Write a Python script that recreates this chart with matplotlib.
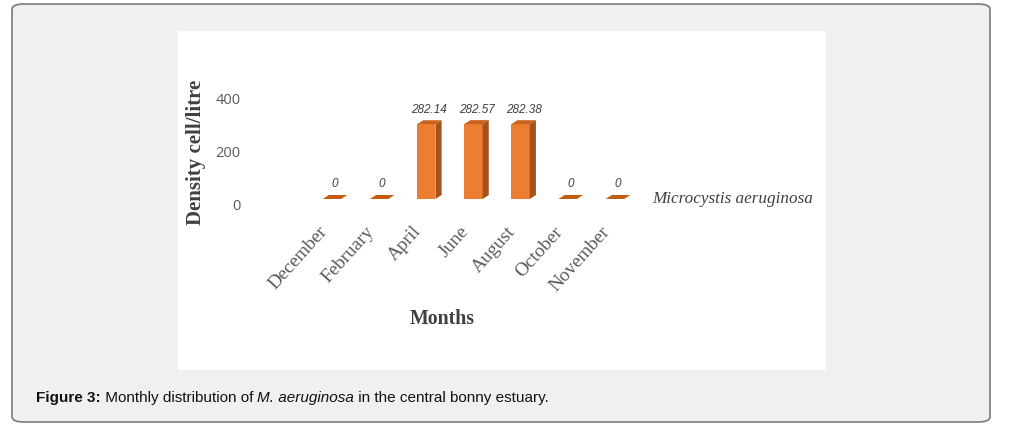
import matplotlib
matplotlib.use('Agg')
import matplotlib.pyplot as plt
import matplotlib.transforms as mtransforms
from matplotlib.patches import Polygon, FancyBboxPatch, Rectangle

# data
months = ["December", "February", "April", "June", "August", "October", "November"]
density = [0, 0, 282.14, 282.57, 282.38, 0, 0]
value_labels = ["0", "0", "282.14", "282.57", "282.38", "0", "0"]
y_ticks = [0, 200, 400]
series_name = "Microcystis aeruginosa"

FRONT = "#ed7d31"
TOP = "#c8621e"
SIDE = "#a4521a"
GREY = "#595959"

fig = plt.figure(figsize=(10.14, 4.35), dpi=100)
fig.patch.set_facecolor("white")

# outer rounded frame and white chart panel (figure pixels -> fractions)
W, H = 1014, 435
frame = FancyBboxPatch((12 / W, 1 - 423 / H), 978 / W, 418 / H,
                       boxstyle="round,pad=0,rounding_size=0.012",
                       transform=fig.transFigure, facecolor="#f0f0f0",
                       edgecolor="#7a7a7a", linewidth=1.2, zorder=-2)
fig.patches.append(frame)
panel = Rectangle((178 / W, 1 - 371 / H), 648 / W, 339 / H,
                  transform=fig.transFigure, facecolor="white",
                  edgecolor="none", zorder=-1)
fig.patches.append(panel)

ax = fig.add_axes([0.3041, 0.5220, 0.3256, 0.2924])
ax.set_facecolor("none")
ax.set_xlim(-0.5, 6.5)
ax.set_ylim(-30, 450)

bw = 0.39   # bar width in x units
dx = 0.13   # depth offset to the right
dy = 15     # depth offset upward

x = list(range(len(months)))
ax.bar(x, density, width=bw, color=FRONT, edgecolor="none", zorder=3)
for xi, v, lab in zip(x, density, value_labels):
    l, r = xi - bw / 2, xi + bw / 2
    top = Polygon([(l, v), (r, v), (r + dx, v + dy), (l + dx, v + dy)],
                  closed=True, facecolor=TOP if v > 0 else "#c55a11",
                  edgecolor="none", zorder=4)
    ax.add_patch(top)
    if v > 0:
        side = Polygon([(r, 0), (r + dx, dy), (r + dx, v + dy), (r, v)],
                       closed=True, facecolor=SIDE, edgecolor="none", zorder=4)
        ax.add_patch(side)
    ax.annotate(lab, (xi + dx / 2, v + dy), xytext=(0, 4),
                textcoords="offset points", ha="center", va="bottom",
                fontsize=8.5, style="italic", color="#404040",
                family="Liberation Sans")

for s in ax.spines.values():
    s.set_visible(False)

ax.set_yticks(y_ticks)
ax.set_yticklabels([str(t) for t in y_ticks], fontsize=10.5, color=GREY,
                   family="Open Sans")
ax.tick_params(axis="y", length=0, pad=49)
down = mtransforms.ScaledTranslation(0, -5 / 100, fig.dpi_scale_trans)
for t in ax.get_yticklabels():
    t.set_transform(t.get_transform() + down)

ax.set_xticks(x)
ax.set_xticklabels(months, rotation=48, ha="right", rotation_mode="anchor",
                   fontsize=13.8, color=GREY, family="Liberation Serif")
ax.tick_params(axis="x", length=0, pad=11)
left = mtransforms.ScaledTranslation(-14 / 100, 0, fig.dpi_scale_trans)
for t in ax.get_xticklabels():
    t.set_transform(t.get_transform() + left)

fig.text(196 / W, 1 - 152 / H, "Density cell/litre", rotation=90,
         ha="center", va="center", fontsize=15, fontweight="bold",
         color="#404040", family="Liberation Serif")
fig.text(442 / W, 1 - 319 / H, "Months", ha="center", va="center",
         fontsize=14.3, fontweight="bold", color="#404040",
         family="Liberation Serif")
fig.text(652 / W, 1 - 199 / H, series_name, ha="left", va="center",
         fontsize=12.3, style="italic", color="#404040",
         family="Liberation Serif")

# caption, pieced together so the species name can be italic
renderer = fig.canvas.get_renderer()
cx = 36
pieces = [("Figure 3:", "bold", "normal"),
          (" Monthly distribution of ", "normal", "normal"),
          ("M. aeruginosa", "normal", "italic"),
          (" in the central bonny estuary.", "normal", "normal")]
for txt, wt, st in pieces:
    t = fig.text(cx / W, 1 - 398 / H, txt, ha="left", va="center",
                 fontsize=11, fontweight=wt, style=st, color="#111111",
                 family="Liberation Sans")
    cx += t.get_window_extent(renderer).width

fig.savefig("out.png", dpi=100)
